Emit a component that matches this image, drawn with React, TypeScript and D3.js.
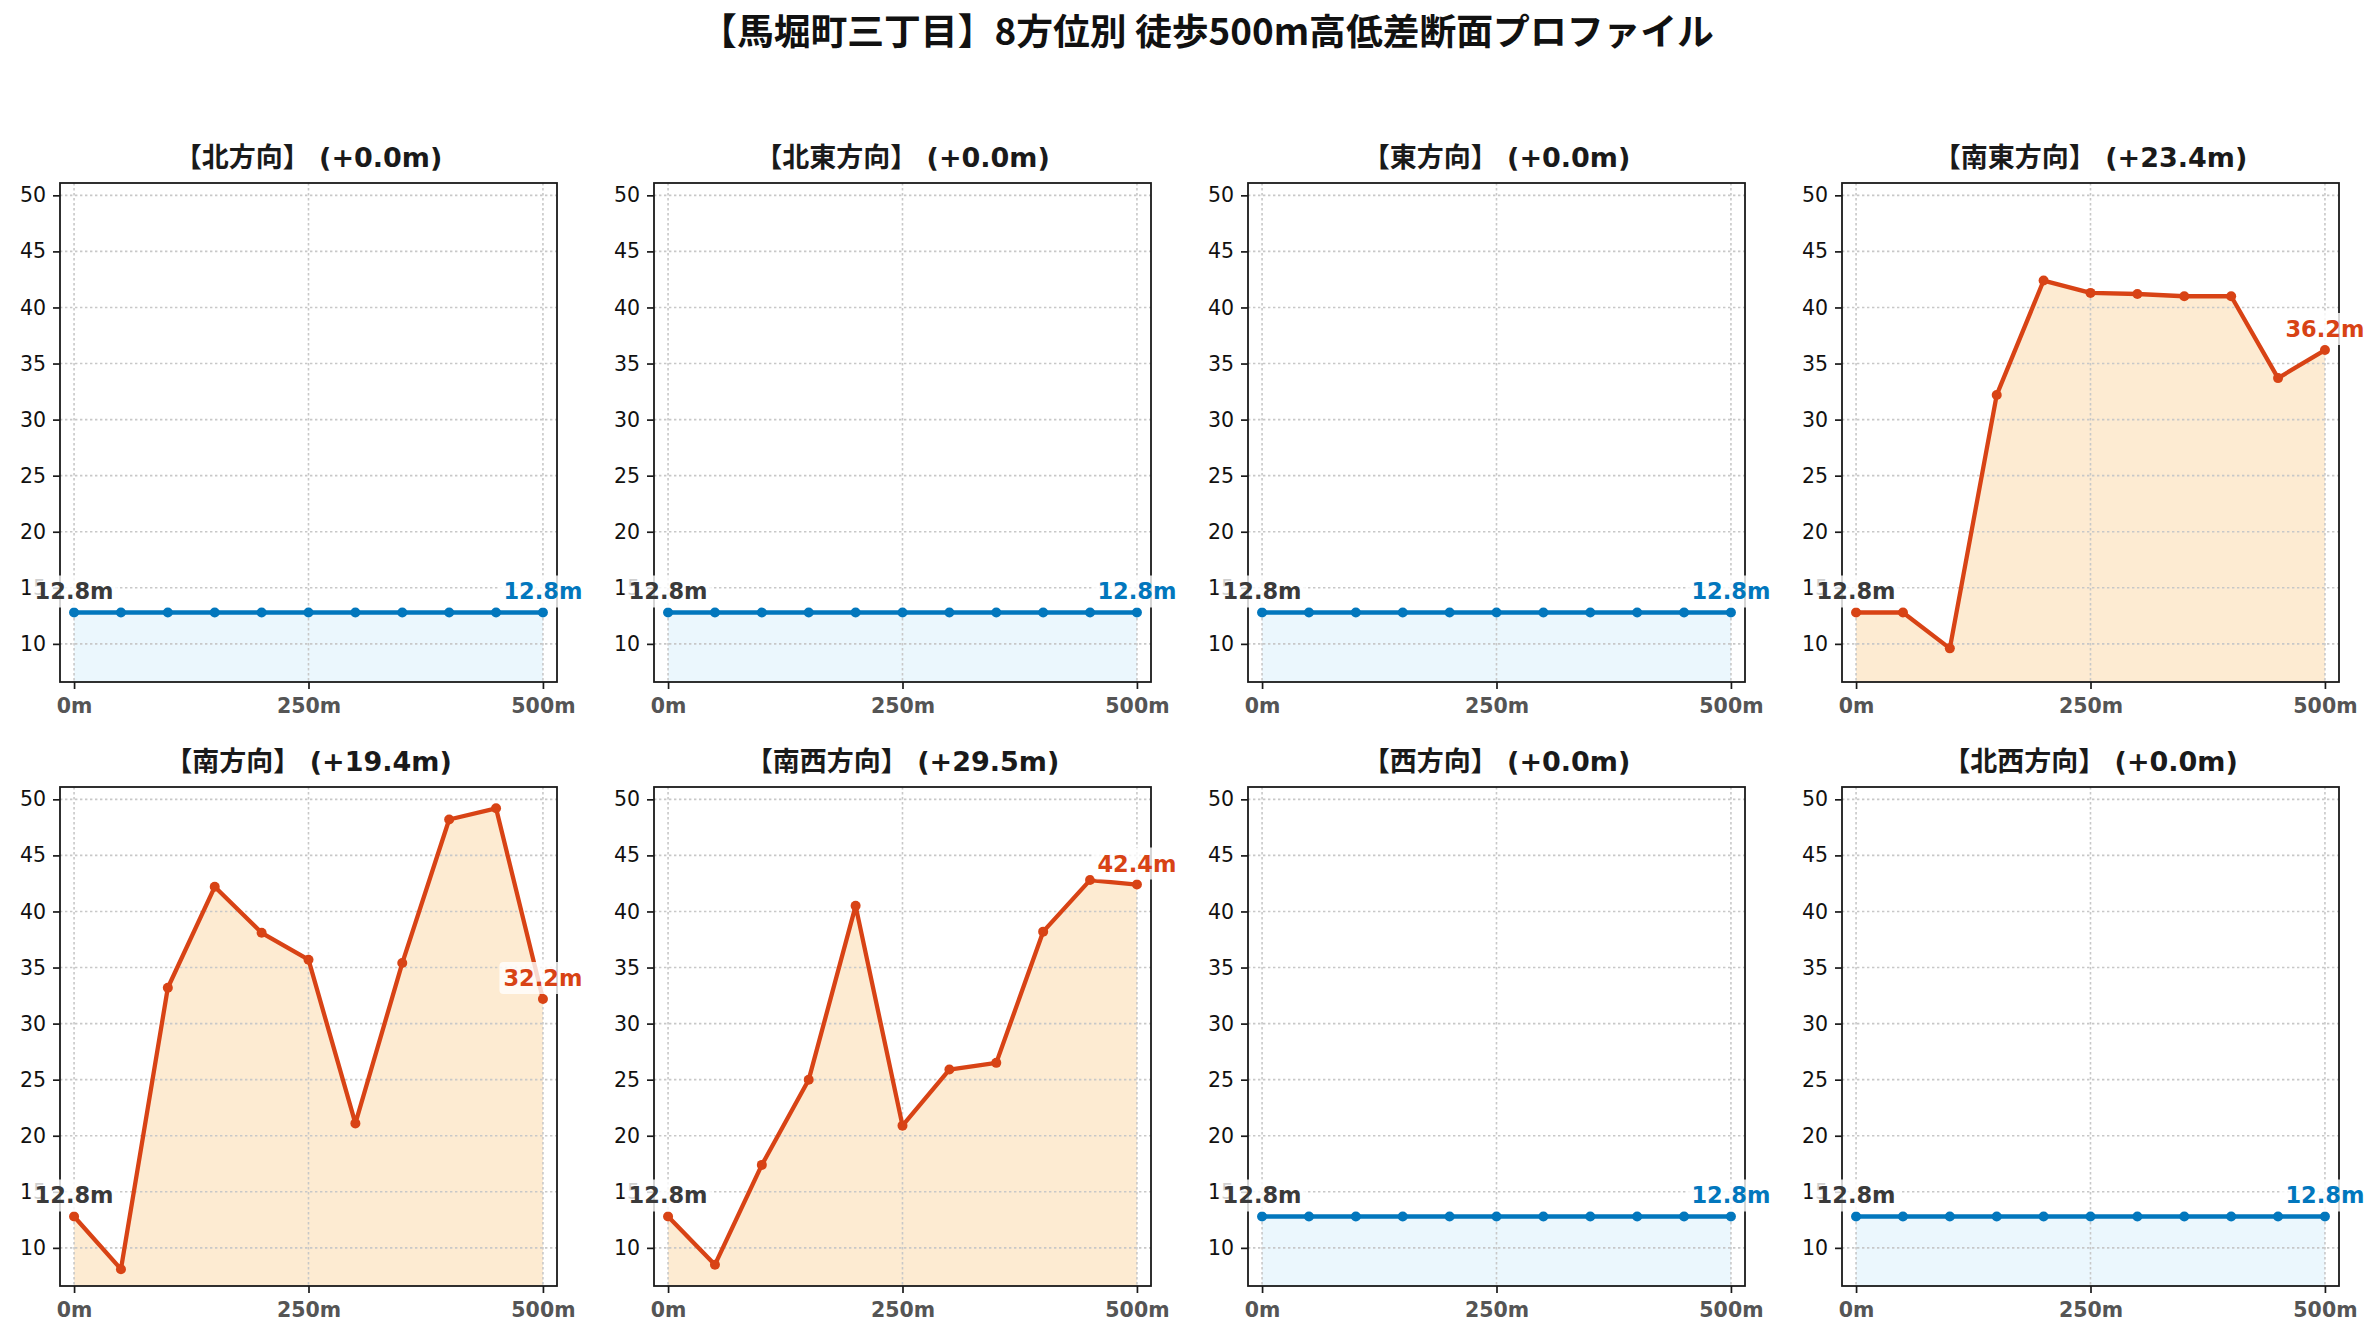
// react
import { useEffect, useRef } from "react";

// d3
import * as d3 from "d3";

const TITLE = "【馬堀町三丁目】8方位別 徒歩500m高低差断面プロファイル";

const DIRECTIONS = ["北", "北東", "東", "南東", "南", "南西", "西", "北西"];
const GAINS = [0.0, 0.0, 0.0, 23.4, 19.4, 29.5, 0.0, 0.0];

// distance from start (m)
const DISTANCES = [0, 50, 100, 150, 200, 250, 300, 350, 400, 450, 500];

// elevation (m) per direction
const ELEV_N = [12.8, 12.8, 12.8, 12.8, 12.8, 12.8, 12.8, 12.8, 12.8, 12.8, 12.8];
const ELEV_NE = [12.8, 12.8, 12.8, 12.8, 12.8, 12.8, 12.8, 12.8, 12.8, 12.8, 12.8];
const ELEV_E = [12.8, 12.8, 12.8, 12.8, 12.8, 12.8, 12.8, 12.8, 12.8, 12.8, 12.8];
const ELEV_SE = [12.8, 12.8, 9.6, 32.2, 42.4, 41.3, 41.2, 41.0, 41.0, 33.7, 36.2];
const ELEV_S = [12.8, 8.1, 33.2, 42.2, 38.1, 35.7, 21.1, 35.4, 48.2, 49.2, 32.2];
const ELEV_SW = [12.8, 8.5, 17.4, 25.0, 40.5, 20.9, 25.9, 26.5, 38.2, 42.8, 42.4];
const ELEV_W = [12.8, 12.8, 12.8, 12.8, 12.8, 12.8, 12.8, 12.8, 12.8, 12.8, 12.8];
const ELEV_NW = [12.8, 12.8, 12.8, 12.8, 12.8, 12.8, 12.8, 12.8, 12.8, 12.8, 12.8];

const PROFILES = [ELEV_N, ELEV_NE, ELEV_E, ELEV_SE, ELEV_S, ELEV_SW, ELEV_W, ELEV_NW];

const Y_TICKS = [10, 15, 20, 25, 30, 35, 40, 45, 50];
const X_TICKS = [0, 250, 500];
const X_TICK_LABELS = ["0m", "250m", "500m"];

const FONT = "'DejaVu Sans', 'Noto Sans CJK JP', sans-serif";
const CJK_FONT = "'Noto Sans CJK JP', 'DejaVu Sans', sans-serif";
const FLAT = { line: "#0277BD", fill: "#EBF7FD" };
const HILL = { line: "#D84315", fill: "#FDEBD2" };

export default function App() {
  const ref = useRef<SVGSVGElement>(null);

  useEffect(() => {
    if (!ref.current) return;
    const svg = d3.select(ref.current);
    svg.selectAll("*").remove();

    const W = 2380;
    const H = 1340;
    svg.attr("width", W).attr("height", H).attr("viewBox", `0 0 ${W} ${H}`);
    svg.append("rect").attr("width", W).attr("height", H).attr("fill", "#fff");

    // panel geometry
    const PW = 497;
    const PH = 499;
    const LEFT0 = 60;
    const TOP0 = 183;
    const PITCH_X = 594;
    const PITCH_Y = 604;

    svg
      .append("text")
      .attr("x", 1207)
      .attr("y", 45)
      .attr("text-anchor", "middle")
      .attr("font-family", CJK_FONT)
      .attr("font-size", 36.8)
      .attr("font-weight", "bold")
      .attr("fill", "#111")
      .text(TITLE);

    PROFILES.forEach((elev, i) => {
      const col = i % 4;
      const row = Math.floor(i / 4);
      const left = LEFT0 + col * PITCH_X;
      const top = TOP0 + row * PITCH_Y;
      const pal = GAINS[i] > 0 ? HILL : FLAT;
      const pts: [number, number][] = DISTANCES.map((d, j) => [d, elev[j]]);

      const x = d3.scaleLinear().domain([-15, 515]).range([0, PW]);
      const y = d3.scaleLinear().domain([6.6, 51.1]).range([PH, 0]);

      const g = svg.append("g").attr("transform", `translate(${left},${top})`);

      const clipId = `clip-${i}`;
      g.append("clipPath")
        .attr("id", clipId)
        .append("rect")
        .attr("width", PW)
        .attr("height", PH);

      const plot = g.append("g").attr("clip-path", `url(#${clipId})`);

      // filled area
      const area = d3
        .area<[number, number]>()
        .x((d) => x(d[0]))
        .y0(PH)
        .y1((d) => y(d[1]));
      plot.append("path").datum(pts).attr("d", area).attr("fill", pal.fill);

      // grid
      plot
        .selectAll(".gy")
        .data(Y_TICKS)
        .join("line")
        .attr("x1", 0)
        .attr("x2", PW)
        .attr("y1", (d) => y(d))
        .attr("y2", (d) => y(d))
        .attr("stroke", "#c8c8c8")
        .attr("stroke-width", 1.6)
        .attr("stroke-dasharray", "2.4 2.6");
      plot
        .selectAll(".gx")
        .data(X_TICKS)
        .join("line")
        .attr("x1", (d) => x(d))
        .attr("x2", (d) => x(d))
        .attr("y1", 0)
        .attr("y2", PH)
        .attr("stroke", "#c8c8c8")
        .attr("stroke-width", 1.6)
        .attr("stroke-dasharray", "2.4 2.6");

      // profile line + markers
      const line = d3
        .line<[number, number]>()
        .x((d) => x(d[0]))
        .y((d) => y(d[1]));
      plot
        .append("path")
        .datum(pts)
        .attr("d", line)
        .attr("fill", "none")
        .attr("stroke", pal.line)
        .attr("stroke-width", 4.3)
        .attr("stroke-linejoin", "round");
      plot
        .selectAll(".pt")
        .data(pts)
        .join("circle")
        .attr("cx", (d) => x(d[0]))
        .attr("cy", (d) => y(d[1]))
        .attr("r", 5)
        .attr("fill", pal.line);

      // frame
      g.append("rect")
        .attr("width", PW)
        .attr("height", PH)
        .attr("fill", "none")
        .attr("stroke", "#1a1a1a")
        .attr("stroke-width", 1.8);

      // axes
      g.append("g")
        .call(d3.axisLeft(y).tickValues(Y_TICKS).tickSize(7).tickPadding(7))
        .call((a) => {
          a.select(".domain").remove();
          a.selectAll("line").attr("stroke", "#1a1a1a").attr("stroke-width", 1.7);
          a.selectAll("text")
            .attr("font-family", FONT)
            .attr("font-size", 20.5)
            .attr("fill", "#111");
        });
      g.append("g")
        .attr("transform", `translate(0,${PH})`)
        .call(
          d3
            .axisBottom(x)
            .tickValues(X_TICKS)
            .tickFormat((_, k) => X_TICK_LABELS[k])
            .tickSize(7)
            .tickPadding(9)
        )
        .call((a) => {
          a.select(".domain").remove();
          a.selectAll("line").attr("stroke", "#1a1a1a").attr("stroke-width", 1.7);
          a.selectAll("text")
            .attr("font-family", FONT)
            .attr("font-size", 20.5)
            .attr("font-weight", "bold")
            .attr("fill", "#555");
        });

      // panel title
      g.append("text")
        .attr("x", PW / 2)
        .attr("y", -16)
        .attr("text-anchor", "middle")
        .attr("font-family", FONT)
        .attr("font-size", 27)
        .attr("font-weight", "bold")
        .attr("fill", "#1a1a1a")
        .text(`【${DIRECTIONS[i]}方向】 (+${GAINS[i].toFixed(1)}m)`);

      // start / end annotations
      const labels = [
        { p: pts[0], color: "#3a3a3a" },
        { p: pts[pts.length - 1], color: pal.line },
      ];
      labels.forEach(({ p, color }) => {
        const cx = x(p[0]);
        const cy = y(p[1]) - 21;
        const lg = g.append("g");
        const box = lg.append("rect");
        const t = lg
          .append("text")
          .attr("x", cx)
          .attr("y", cy + 8)
          .attr("text-anchor", "middle")
          .attr("font-family", FONT)
          .attr("font-size", 22.5)
          .attr("font-weight", "bold")
          .attr("fill", color)
          .text(`${p[1].toFixed(1)}m`);
        const bb = (t.node() as SVGTextElement).getBBox();
        box
          .attr("x", bb.x - 4)
          .attr("y", cy - 16)
          .attr("width", bb.width + 8)
          .attr("height", 32)
          .attr("rx", 4)
          .attr("fill", "#fff")
          .attr("fill-opacity", 0.8);
      });
    });
  }, []);

  return (
    <svg
      ref={ref}
      style={{ position: "absolute", left: 0, top: 0, display: "block" }}
    />
  );
}
